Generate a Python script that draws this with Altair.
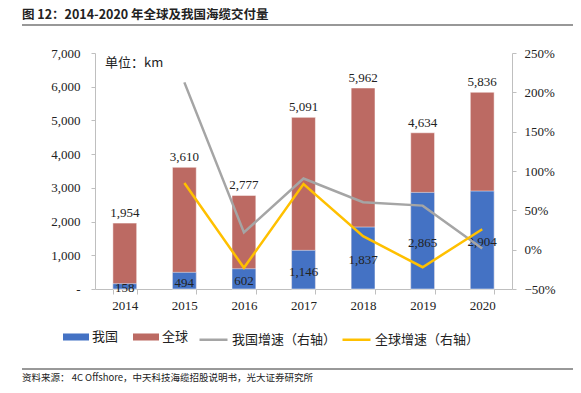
import altair as alt
import pandas as pd

years = ["2014", "2015", "2016", "2017", "2018", "2019", "2020"]
china = [158, 494, 602, 1146, 1837, 2865, 2904]
world = [1954, 3610, 2777, 5091, 5962, 4634, 5836]
china_growth = [None, 2.127, 0.219, 0.904, 0.603, 0.560, 0.014]
world_growth = [None, 0.847, -0.231, 0.833, 0.171, -0.223, 0.259]

bar_series = ["我国", "全球"]
line_series = ["我国增速（右轴）", "全球增速（右轴）"]

left_ticks = [0, 1000, 2000, 3000, 4000, 5000, 6000, 7000]
right_ticks = [-0.5, 0, 0.5, 1, 1.5, 2, 2.5]

title_text = "图 12：2014-2020 年全球及我国海缆交付量"
source_text = "资料来源：  4C Offshore，中天科技海缆招股说明书，光大证券研究所"
unit_text = "单位：km"

SERIF = "Liberation Serif"
CJK = "Noto Sans CJK SC"
BLUE = "#4472C4"
RED = "#BC6A63"
GREY = "#A5A5A5"
YELLOW = "#FFC000"

df = pd.DataFrame({
    "year": years,
    "china": china,
    "world": world,
    "china_g": china_growth,
    "world_g": world_growth,
})

x_axis = alt.Axis(labelAngle=0, tickBand="extent", domainColor="#BFBFBF",
                  tickColor="#BFBFBF", tickSize=5, labelPadding=5, title=None,
                  labelFont=SERIF, labelFontSize=13, labelColor="#222")
x_scale = alt.Scale(paddingInner=0.6, paddingOuter=0.3)

left_axis = alt.Axis(values=left_ticks,
                     labelExpr="datum.value == 0 ? '-' : format(datum.value, ',')",
                     labelOverlap=False, title=None,
                     grid=False, domainColor="#BFBFBF", tickColor="#BFBFBF",
                     tickSize=4, labelPadding=11, labelFont=SERIF,
                     labelFontSize=13, labelColor="#222")
right_axis = alt.Axis(orient="right", format=".0%", values=right_ticks, grid=False,
                      labelOverlap=False, title=None,
                      domainColor="#BFBFBF", tickColor="#BFBFBF", tickSize=4,
                      labelPadding=8, labelFont=SERIF, labelFontSize=13,
                      labelColor="#222")


def X():
    return alt.X("year:N", sort=years, title=None, scale=x_scale, axis=x_axis)


yscale = alt.Scale(domain=[0, 7000], nice=False)
gscale = alt.Scale(domain=[-0.5, 2.5], nice=False)
fill_scale = alt.Scale(domain=bar_series, range=[BLUE, RED])
stroke_scale = alt.Scale(domain=line_series, range=[GREY, YELLOW])
bar_path = "M-1,-0.27L1,-0.27L1,0.27L-1,0.27Z"

fill_legend = alt.Legend(orient="none", legendX=-32, legendY=271,
                         direction="horizontal", title=None,
                         symbolType=bar_path, symbolSize=676,
                         symbolStrokeWidth=0, labelFont=CJK,
                         labelFontSize=13, labelColor="#222",
                         labelOffset=3, columnPadding=14)
stroke_legend = alt.Legend(orient="none", legendX=103, legendY=271,
                           direction="horizontal", title=None,
                           symbolType="M-1,0L1,0", symbolSize=784,
                           symbolStrokeWidth=2.5, labelFont=CJK,
                           labelFontSize=13, labelColor="#222",
                           labelOffset=3, columnPadding=0)

base = alt.Chart(df)

world_bar = base.transform_calculate(series="'" + bar_series[1] + "'").mark_bar(
    stroke="white", strokeWidth=0.5).encode(
    x=X(),
    y=alt.Y("world:Q", scale=yscale, title=None, axis=left_axis),
    fill=alt.Fill("series:N", scale=fill_scale, sort=bar_series, legend=fill_legend),
)

china_bar = base.transform_calculate(series="'" + bar_series[0] + "'").mark_bar(
    stroke="white", strokeWidth=0.5).encode(
    x=X(),
    y=alt.Y("china:Q", scale=yscale, title=None, axis=left_axis),
    fill=alt.Fill("series:N", scale=fill_scale, sort=bar_series, legend=fill_legend),
)

world_lbl = base.mark_text(baseline="bottom", dy=-3, font=SERIF, fontSize=13,
                           color="#222").encode(
    x=X(),
    y=alt.Y("world:Q", scale=yscale, title=None, axis=left_axis),
    text=alt.Text("world:Q", format=","),
)

china_lbl = base.transform_calculate(mid="datum.china / 2").mark_text(
    baseline="middle", dy=2, font=SERIF, fontSize=13, color="#222").encode(
    x=X(),
    y=alt.Y("mid:Q", scale=yscale, title=None, axis=left_axis),
    text=alt.Text("china:Q", format=","),
)

left = alt.layer(world_bar, china_bar, world_lbl, china_lbl)

china_line = base.transform_calculate(series="'" + line_series[0] + "'").mark_line(
    strokeWidth=2.5).encode(
    x=X(),
    y=alt.Y("china_g:Q", scale=gscale, title=None, axis=right_axis),
    stroke=alt.Stroke("series:N", scale=stroke_scale, sort=line_series, legend=stroke_legend),
)

world_line = base.transform_calculate(series="'" + line_series[1] + "'").mark_line(
    strokeWidth=2.5).encode(
    x=X(),
    y=alt.Y("world_g:Q", scale=gscale, title=None, axis=right_axis),
    stroke=alt.Stroke("series:N", scale=stroke_scale, sort=line_series, legend=stroke_legend),
)

right = alt.layer(china_line, world_line)

one = pd.DataFrame({"title": [title_text], "source": [source_text], "unit": [unit_text]})
deco = alt.Chart(one)

title_mark = deco.mark_text(align="left", baseline="middle", font=CJK, fontSize=12.5,
                            fontWeight="bold", color="#222").encode(
    x=alt.value(-73), y=alt.value(-38), text="title:N")
title_rule = deco.mark_rule(color="#333", strokeWidth=1.2).encode(
    x=alt.value(-73), x2=alt.value(480), y=alt.value(-28))
source_rule = deco.mark_rule(color="#333", strokeWidth=1).encode(
    x=alt.value(-73), x2=alt.value(480), y=alt.value(316))
source_mark = deco.mark_text(align="left", baseline="middle", font=CJK, fontSize=9.5,
                             color="#222").encode(
    x=alt.value(-73), y=alt.value(325), text="source:N")
unit_mark = deco.mark_text(align="left", baseline="middle", font=CJK, fontSize=13,
                           color="#222").encode(
    x=alt.value(10), y=alt.value(10), text="unit:N")

chart = alt.layer(left, right, title_mark, title_rule, source_rule, source_mark, unit_mark).resolve_scale(
    y="independent", fill="independent", stroke="independent"
).properties(
    width=417, height=236,
    autosize=alt.AutoSizeParams(type="none"),
    padding={"left": 87, "top": 45, "right": 61, "bottom": 96},
    background="white",
).configure_view(stroke=None).configure_axis(labelOverlap=False)

chart.save("out.html", embed_options={"renderer": "svg", "actions": False})
